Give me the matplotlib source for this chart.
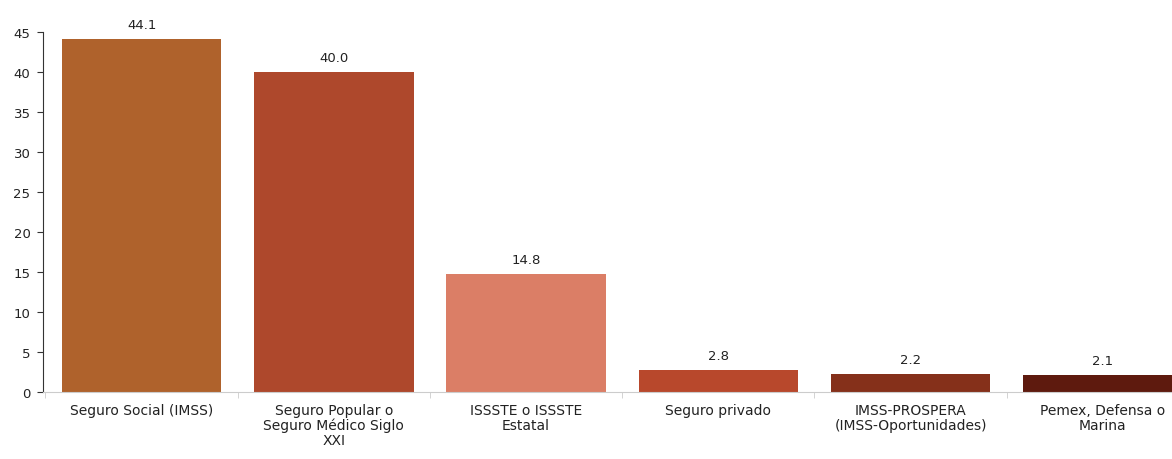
import matplotlib
matplotlib.use("Agg")
import matplotlib.pyplot as plt
import numpy as np

categories = ["Seguro Social (IMSS)", "Seguro Popular o\nSeguro Médico Siglo\nXXI",
              "ISSSTE o ISSSTE\nEstatal", "Seguro privado",
              "IMSS-PROSPERA\n(IMSS-Oportunidades)", "Pemex, Defensa o\nMarina"]
values = [44.1, 40.0, 14.8, 2.8, 2.2, 2.1]
colors = ["#AF622C", "#AE482C", "#DB7E66", "#B8482C", "#85301A", "#5E1A0E"]
yticks = [0, 5, 10, 15, 20, 25, 30, 35, 40, 45]

plt.rcParams['font.family'] = ['DejaVu Sans']
fig = plt.figure(figsize=(11.72, 4.6), dpi=100)
ax = fig.add_axes([43/1172, 67/460, 1156/1172, 360/460])
x = np.arange(len(values))
ax.bar(x, values, width=0.83, color=colors)
for xi, v in zip(x, values):
    ax.text(xi, v + 1.0, f"{v:.1f}", ha="center", va="bottom", fontsize=9.5, color="#222222")
ax.set_xlim(-0.513, len(values) - 0.5)
ax.set_ylim(0, 45)
ax.set_yticks(yticks)
ax.tick_params(axis='y', labelsize=9.5, length=4, color="#333333", labelcolor="#222222", pad=5)
ax.set_xticks(x)
ax.set_xticklabels(categories, fontsize=10, color="#222222", linespacing=1.05)
ax.tick_params(axis='x', length=0, pad=8)
ax.set_xticks(np.arange(-0.5, len(values), 1), minor=True)
ax.tick_params(axis='x', which='minor', length=4, color="#cccccc")
for s in ["top", "right"]:
    ax.spines[s].set_visible(False)
ax.spines["left"].set_color("#333333")
ax.spines["bottom"].set_color("#cccccc")
fig.savefig("out.png", dpi=100)
